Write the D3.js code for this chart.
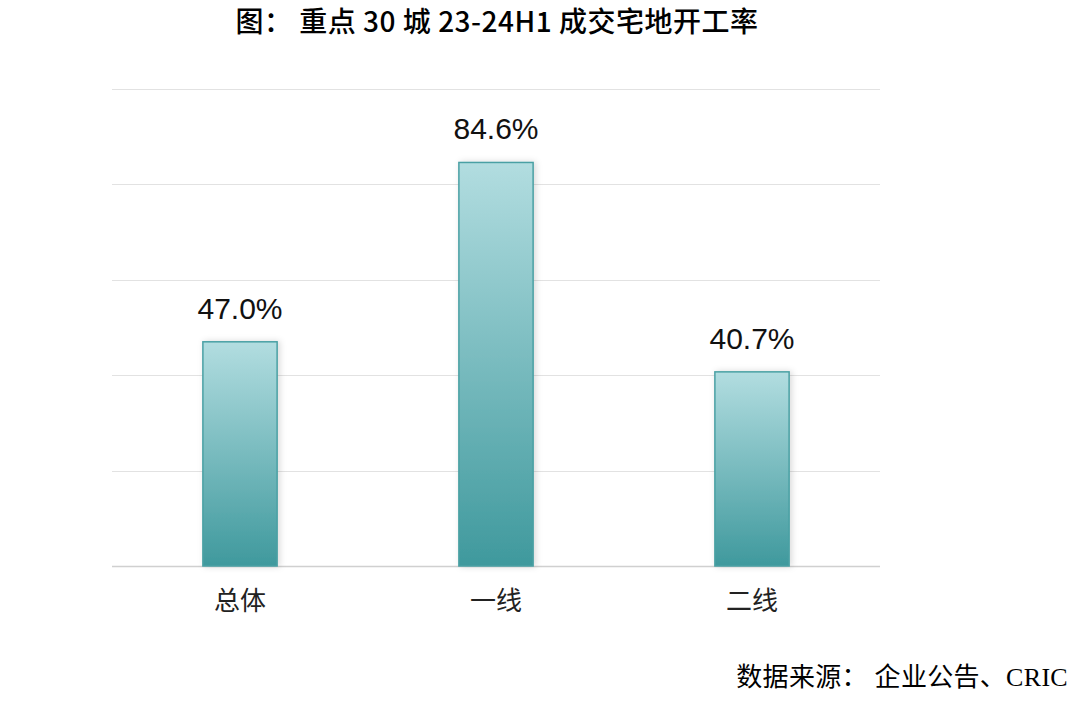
<!DOCTYPE html>
<html><head><meta charset="utf-8">
<script src="https://cdn.jsdelivr.net/npm/d3@7"></script>
<style>body{margin:0;background:#fff}</style>
</head><body>
<svg id="c" width="1080" height="705"></svg>
<script>
const categories = ["总体", "一线", "二线"];
const values = [47.0, 84.6, 40.7];
const yTicks = [0, 20, 40, 60, 80, 100];
const titleText = "图： 重点 30 城 23-24H1 成交宅地开工率";
const sourceText = "数据来源： 企业公告、CRIC";

const svg = d3.select("#c");
const x = d3.scaleBand().domain(categories).range([112, 880]).paddingInner(0.71).paddingOuter(0.355);
const y = d3.scaleLinear().domain([0, 100]).range([566, 89]);

const defs = svg.append("defs");
const g = defs.append("linearGradient").attr("id","gr").attr("x1",0).attr("y1",0).attr("x2",0).attr("y2",1);
g.append("stop").attr("offset","0%").attr("stop-color","#b2dde0");
g.append("stop").attr("offset","100%").attr("stop-color","#3f999d");
const f = defs.append("filter").attr("id","sh").attr("x","-20%").attr("y","-20%").attr("width","140%").attr("height","140%");
f.append("feDropShadow").attr("dx",2).attr("dy",0).attr("stdDeviation",3).attr("flood-color","#000").attr("flood-opacity",0.15);

// grid
svg.append("g").selectAll("line").data(yTicks).join("line")
  .attr("x1",112).attr("x2",880).attr("y1",d=>Math.round(y(d))+0.5).attr("y2",d=>Math.round(y(d))+0.5)
  .attr("stroke",d=>d===0?"#d0d0d0":"#e2e2e2").attr("stroke-width",d=>d===0?1.5:1.2);

// bars
svg.append("g").selectAll("rect").data(values).join("rect")
  .attr("x",(d,i)=>x(categories[i])).attr("width",x.bandwidth())
  .attr("y",d=>y(d)).attr("height",d=>y(0)-y(d))
  .attr("fill","url(#gr)").attr("stroke","#4aa0a4").attr("stroke-width",1.5)
  .attr("filter","url(#sh)");

// value labels
svg.append("g").selectAll("text").data(values).join("text")
  .attr("x",(d,i)=>x(categories[i])+x.bandwidth()/2).attr("y",d=>y(d)-23)
  .attr("text-anchor","middle").attr("font-family","Liberation Sans, Arial, sans-serif")
  .attr("font-size",30).attr("fill","#111").text(d=>d.toFixed(1)+"%");

// x axis labels
svg.append("g").selectAll("text").data(categories).join("text")
  .attr("x",d=>x(d)+x.bandwidth()/2).attr("y",610)
  .attr("text-anchor","middle").attr("font-family","Noto Sans CJK SC, sans-serif")
  .attr("font-size",26).attr("fill","#222").text(d=>d);

// title
svg.append("text").attr("x",497).attr("y",32).attr("text-anchor","middle")
  .attr("font-family","Noto Sans CJK SC, sans-serif").attr("font-weight","500")
  .attr("letter-spacing",0.5)
  .attr("font-size",28).attr("fill","#000").text(titleText);

// source
svg.append("text").attr("x",1068).attr("y",686).attr("text-anchor","end")
  .attr("font-family","Liberation Serif, Noto Sans CJK SC, serif")
  .attr("font-size",26).attr("letter-spacing",0.3).attr("fill","#000").text(sourceText);
</script>
</body></html>
